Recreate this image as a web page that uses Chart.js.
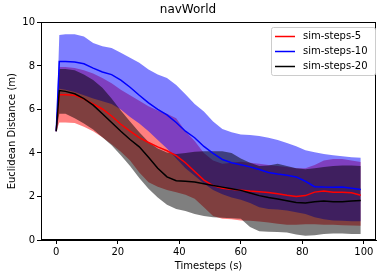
<!DOCTYPE html>
<html><head><meta charset="utf-8">
<script src="https://cdn.jsdelivr.net/npm/chart.js@4/dist/chart.umd.min.js"></script>
<style>html,body{margin:0;padding:0;background:#fff}#wrap{width:386px;height:278px}</style>
</head><body><div id="wrap"><canvas id="c" width="386" height="278"></canvas></div>
<script>
const timesteps = [0,1,3,6,9,12,15,18,21,24,27,30,33,36,39,42,45,48,51,54,57,60,63,66,69,72,75,78,81,84,87,90,93,96,99];

const red5Mean  = [5.0,6.68,6.68,6.65,6.48,6.25,6.02,5.7,5.32,5.0,4.7,4.48,4.28,4.1,3.88,3.55,3.15,2.75,2.5,2.38,2.33,2.29,2.25,2.22,2.18,2.13,2.06,2.0,2.04,2.2,2.25,2.2,2.2,2.17,2.06];
const red5Upper = [5.0,7.95,7.95,7.9,7.8,7.65,7.45,7.2,6.9,6.65,6.4,6.15,5.95,5.8,5.6,5.0,4.55,4.0,3.65,3.5,3.55,3.6,3.55,3.5,3.45,3.4,3.35,3.3,3.3,3.45,3.65,3.72,3.72,3.65,3.58];
const red5Lower = [5.0,5.4,5.4,5.38,5.2,5.0,4.72,4.4,4.05,3.65,3.1,2.65,2.45,2.3,2.2,2.08,1.9,1.5,1.1,0.98,0.95,0.9,0.88,0.85,0.8,0.75,0.7,0.7,0.72,0.72,0.7,0.7,0.68,0.67,0.65];

const blue10Mean  = [5.0,8.2,8.2,8.18,8.1,7.9,7.72,7.6,7.35,7.02,6.65,6.3,6.0,5.75,5.4,5.0,4.7,4.3,3.98,3.7,3.55,3.46,3.36,3.24,3.1,3.03,2.98,2.9,2.7,2.45,2.43,2.42,2.43,2.38,2.32];
const blue10Upper = [5.0,9.42,9.45,9.46,9.35,9.05,8.9,8.82,8.6,8.38,8.15,7.83,7.6,7.45,7.12,6.7,6.25,5.9,5.45,5.1,4.95,4.85,4.82,4.78,4.7,4.6,4.46,4.31,4.12,4.03,3.95,3.9,3.85,3.8,3.78];
const blue10Lower = [5.0,6.95,6.9,6.8,6.65,6.5,6.38,6.25,6.0,5.65,5.35,5.0,4.6,4.2,3.75,3.3,2.95,2.6,2.3,2.1,1.95,1.85,1.7,1.5,1.42,1.4,1.35,1.28,1.2,1.05,0.95,0.9,0.88,0.86,0.86];

const black20Mean  = [5.0,6.87,6.83,6.72,6.5,6.2,5.8,5.4,5.0,4.62,4.28,3.8,3.3,2.9,2.72,2.7,2.66,2.58,2.5,2.43,2.36,2.28,2.16,2.04,1.95,1.88,1.8,1.72,1.7,1.76,1.79,1.76,1.76,1.79,1.82];
const black20Upper = [5.0,7.86,7.86,7.8,7.6,7.35,7.0,6.5,5.95,5.45,4.95,4.5,4.2,4.02,3.95,4.0,4.05,4.08,4.08,4.08,4.0,3.75,3.55,3.4,3.42,3.5,3.4,3.3,3.25,3.3,3.35,3.4,3.42,3.42,3.4];
const black20Lower = [5.0,5.8,5.8,5.6,5.35,5.08,4.72,4.35,3.9,3.4,2.85,2.35,1.95,1.62,1.42,1.33,1.2,1.1,1.05,1.02,1.0,0.98,0.6,0.4,0.38,0.37,0.35,0.25,0.2,0.22,0.28,0.3,0.3,0.28,0.27];

const xTicks = [0,20,40,60,80,100];
const yTicks = [0,2,4,6,8,10];
const seriesNames = ['sim-steps-5','sim-steps-10','sim-steps-20'];

const pts = arr => arr.map((v,i)=>({x:timesteps[i], y:v}));
const FONT = 'DejaVu Sans';

const series = [
  {name:seriesNames[0], mean:red5Mean, up:red5Upper, lo:red5Lower, line:'#ff0000', fill:'rgba(255,0,0,0.5)', fo:30},
  {name:seriesNames[1], mean:blue10Mean, up:blue10Upper, lo:blue10Lower, line:'#0000ff', fill:'rgba(0,0,255,0.5)', fo:20},
  {name:seriesNames[2], mean:black20Mean, up:black20Upper, lo:black20Lower, line:'#000000', fill:'rgba(0,0,0,0.5)', fo:10}
];

const datasets = [];
series.forEach((s,k)=>{
  datasets.push({label:s.name, data:pts(s.mean), borderColor:s.line, borderWidth:1.5, pointRadius:0, fill:false, order:3-k, tension:0});
});
series.forEach((s,k)=>{
  const loIdx = datasets.length;
  datasets.push({label:s.name+'-lo', data:pts(s.lo), borderWidth:0, pointRadius:0, fill:false, order:s.fo+1, borderColor:'rgba(0,0,0,0)'});
  datasets.push({label:s.name+'-up', data:pts(s.up), borderWidth:0, pointRadius:0, fill:{target:loIdx}, backgroundColor:s.fill, order:s.fo, borderColor:'rgba(0,0,0,0)'});
});

const framePlugin = {
  id:'frame',
  afterDraw(chart){
    const {ctx, chartArea:a} = chart;
    ctx.save();
    ctx.strokeStyle='#000'; ctx.lineWidth=1;
    ctx.strokeRect(Math.round(a.left)+0.5, Math.round(a.top)+0.5, Math.round(a.right-a.left)-1, Math.round(a.bottom-a.top)-1);
    const x0=271, y0=27, w=104, h=48;
    ctx.fillStyle='rgba(255,255,255,0.85)';
    ctx.strokeStyle='#cccccc';
    ctx.beginPath();
    if (ctx.roundRect) ctx.roundRect(x0+0.5,y0+0.5,w,h,2); else ctx.rect(x0+0.5,y0+0.5,w,h);
    ctx.fill(); ctx.stroke();
    ctx.font='10px "'+FONT+'"';
    ctx.textBaseline='middle';
    series.forEach((s,i)=>{
      const y = y0+9.5+i*15;
      ctx.strokeStyle=s.line; ctx.lineWidth=1.5;
      ctx.beginPath(); ctx.moveTo(x0+4,y); ctx.lineTo(x0+24,y); ctx.stroke();
      ctx.fillStyle='#000';
      ctx.fillText(s.name, x0+32, y);
    });
    ctx.restore();
  }
};

new Chart(document.getElementById('c'), {
  type:'line',
  data:{datasets},
  options:{
    responsive:false, animation:false, devicePixelRatio:1,
    layout:{padding:{left:0,right:10,top:0,bottom:0}},
    plugins:{
      legend:{display:false}, tooltip:{enabled:false},
      filler:{drawTime:'beforeDatasetsDraw'},
      title:{display:true, text:'navWorld', color:'#000', font:{family:FONT,size:12,weight:'normal'}, padding:{top:3,bottom:5}}
    },
    scales:{
      x:{type:'linear', min:-4.95, max:103.95,
        afterBuildTicks(s){ s.ticks = xTicks.map(v=>({value:v})); },
        afterFit(s){ s.height = 38; },
        grid:{display:true, drawOnChartArea:false, drawTicks:true, tickLength:4, color:'#000'},
        border:{display:true, color:'#000'},
        ticks:{color:'#000', font:{family:FONT,size:10}, padding:2, maxRotation:0},
        title:{display:true, text:'Timesteps (s)', color:'#000', font:{family:FONT,size:10}, padding:{top:2,bottom:6}}
      },
      y:{type:'linear', min:0, max:10,
        afterBuildTicks(s){ s.ticks = yTicks.map(v=>({value:v})); },
        afterFit(s){ s.width = 41; },
        grid:{display:true, drawOnChartArea:false, drawTicks:true, tickLength:4, color:'#000'},
        border:{display:true, color:'#000'},
        ticks:{color:'#000', font:{family:FONT,size:10}, padding:2},
        title:{display:true, text:'Euclidean Distance (m)', color:'#000', font:{family:FONT,size:10}, padding:{top:6,bottom:2}}
      }
    }
  },
  plugins:[framePlugin]
});
</script></body></html>
